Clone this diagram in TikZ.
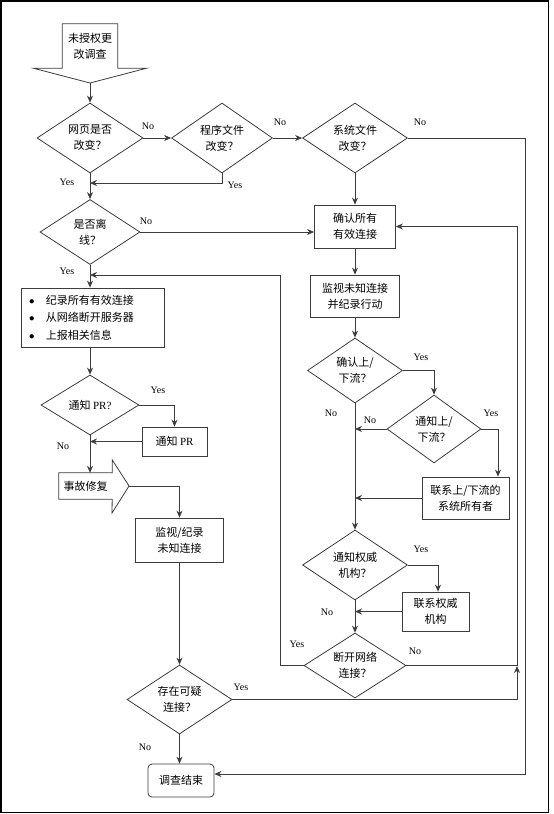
\documentclass[tikz,border=0pt]{standalone}
\usepackage{fontspec}
\setmainfont{Liberation Serif}
\newfontfamily\cjk{Noto Sans CJK SC}
\usepackage{tikz}
\usetikzlibrary{arrows.meta,positioning,shapes.geometric}
\definecolor{fcline}{RGB}{60,60,60}
\newcommand{\fcbullet}{\makebox[17pt][l]{$\bullet$}}

\begin{document}
\begin{tikzpicture}[x=1pt,y=-1pt,
        every node/.style={font=\cjk\fontsize{11}{16}\selectfont},
        decision/.style={diamond, draw=fcline, line width=0.8pt, aspect=1.5, inner sep=0pt, align=center},
        proc/.style={rectangle, draw=fcline, line width=0.8pt, align=center, inner sep=2pt},
        shaft/.style={rectangle, inner sep=0pt, align=center},
        flow/.style={-{Stealth[length=7pt,width=6pt]}, draw=fcline, line width=0.8pt},
        link/.style={draw=fcline, line width=0.8pt},
        yn/.style={font=\rmfamily\fontsize{10}{12}\selectfont, inner sep=0pt}
      ]
      \useasboundingbox (0,0) rectangle (554,814);
      \draw[line width=1.6pt] (1,1) rectangle (548.5,812.5);

      \node[shaft, minimum width=55pt, minimum height=44pt] (start) at (90,46) {未授权更\\改调查};
      \coordinate (starttip) at (90,83);
      \draw[link] (start.south west) |- (start.north east) -- (start.south east) -- ++(29,0) -- (starttip) -- ([xshift=-29pt]start.south west) -- cycle;

      \node[decision, minimum width=106pt, minimum height=70pt] (d1) at (90,138) {网页是否\\改变？};
      \node[decision, minimum width=101pt, minimum height=70pt] (d2) at (222,138) {程序文件\\改变？};
      \node[decision, minimum width=105pt, minimum height=70pt] (d3) at (355,138) {系统文件\\改变？};
      \node[decision, minimum width=100pt, minimum height=65pt] (d4) at (90,232) {是否离\\线？};
      \node[proc, minimum width=81pt, minimum height=43pt] (confirm) at (355,226.5) {确认所有\\有效连接};
      \node[proc, minimum width=89pt, minimum height=42pt] (watch) at (355,296) {监视未知连接\\并纪录行动};

      \node[proc, text width=127pt, inner xsep=8pt, minimum height=59pt, align=left, font=\cjk\fontsize{11}{17.5}\selectfont] (record) at (92.5,317.5)
        {\fcbullet 纪录所有有效连接\\\fcbullet 从网络断开服务器\\\fcbullet 上报相关信息};
      \node[decision, minimum width=98pt, minimum height=60pt] (d5) at (90,405) {通知 {\rmfamily PR?}};
      \node[proc, minimum width=65pt, minimum height=29pt] (notifypr) at (174.5,441.5) {通知 {\rmfamily PR}};
      \node[shaft, minimum width=53pt, minimum height=26pt] (repair) at (85.5,486) {事故修复};
      \coordinate (repairtip) at (129,486);
      \draw[link] (repair.south east) -- (repair.south west) -- (repair.north west) -- (repair.north east) -- ++(0,-13) -- (repairtip) -- ++(-17,27) -- cycle;
      \node[proc, minimum width=88pt, minimum height=44pt] (monitor) at (179.5,540) {监视/纪录\\未知连接};
      \node[decision, minimum width=105pt, minimum height=69pt] (d6) at (179.5,699.5) {存在可疑\\连接？};
      \node[proc, rounded corners=4pt, minimum width=66pt, minimum height=33pt] (finish) at (181,780.5) {调查结束};

      \node[decision, minimum width=95pt, minimum height=65pt] (d7) at (355,370.5) {确认上/\\下流？};
      \node[decision, minimum width=94pt, minimum height=68pt] (d8) at (434,429) {通知上/\\下流？};
      \node[proc, minimum width=87pt, minimum height=42pt] (contact) at (465.5,498) {联系上/下流的\\系统所有者};
      \node[decision, minimum width=105pt, minimum height=70pt] (d9) at (355,565) {通知权威\\机构？};
      \node[proc, minimum width=67pt, minimum height=39pt] (authority) at (435.5,611.5) {联系权威\\机构};
      \node[decision, minimum width=102pt, minimum height=65pt] (d10) at (355,665.5) {断开网络\\连接？};

      \coordinate (yesjoin) at (90,183);
      \coordinate (rightrail) at (525,774);
      \coordinate (looprail) at (517,666);
      \coordinate (backrail) at (280,275);

      \draw[flow] (starttip) -- (d1.north);
      \draw[flow] (d1.east) -- (d2.west);
      \draw[flow] (d2.east) -- (d3.west);
      \draw[flow] (d1.south) -- (d4.north);
      \draw[flow] (d2.south) |- (yesjoin);
      \draw[flow] (d3.south) -- (confirm.north);
      \draw[flow] (d3.east) -| (rightrail) -- (rightrail -| finish.east);
      \draw[flow] (d4.east) -- (d4.east -| confirm.west);
      \draw[flow] (d4.south) -- (d4.south |- record.north);
      \draw[flow] (confirm.south) -- (watch.north);
      \draw[flow] (watch.south) -- (d7.north);
      \draw[flow] (d7.east) -| (d8.north);
      \draw[flow] (d8.west) -- (d8.west -| d7.south);
      \draw[flow] (d8.east) -| ([xshift=32.5pt]contact.north);
      \draw[flow] (contact.west) -- (contact.west -| d7.south);
      \draw[flow] (d7.south) -- (d9.north);
      \draw[flow] (d9.east) -| ([xshift=2.5pt]authority.north);
      \draw[flow] (authority.west) -- (authority.west -| d9.south);
      \draw[flow] (d9.south) -- (d10.north);
      \draw[flow] (d10.west) -| (backrail) -- (backrail -| d4.south);
      \draw[link] (d10.east) -- (d10.east -| looprail);
      \draw[flow] (d6.east) -| (looprail);
      \draw[flow] (looprail) |- (confirm.east);
      \draw[flow] (d5.north |- record.south) -- (d5.north);
      \draw[flow] (d5.east) -| (notifypr.north);
      \draw[flow] (notifypr.west) -- (notifypr.west -| d5.south);
      \draw[flow] (d5.south) -- (d5.south |- repair.north);
      \draw[flow] (repairtip) -| (monitor.north);
      \draw[flow] (monitor.south) -- (d6.north);
      \draw[flow] (d6.south) -- (d6.south |- finish.north);

      \node[yn] (d1no) at (148,126) {No};
      \node[yn] (d1yes) at (67,182) {Yes};
      \node[yn] (d2no) at (280,122) {No};
      \node[yn] (d2yes) at (235,185) {Yes};
      \node[yn] (d3no) at (420,122) {No};
      \node[yn] (d4no) at (146,221) {No};
      \node[yn] (d4yes) at (67,271) {Yes};
      \node[yn] (d5yes) at (158,390) {Yes};
      \node[yn] (d5no) at (63,446) {No};
      \node[yn] (d6yes) at (241,687) {Yes};
      \node[yn] (d6no) at (145,747) {No};
      \node[yn] (d7yes) at (421,357) {Yes};
      \node[yn] (d7no) at (331,413) {No};
      \node[yn] (d8no) at (370,420) {No};
      \node[yn] (d8yes) at (491,413) {Yes};
      \node[yn] (d9yes) at (421,549) {Yes};
      \node[yn] (d9no) at (327,612) {No};
      \node[yn] (d10yes) at (297,644) {Yes};
      \node[yn] (d10no) at (415,651) {No};
    \end{tikzpicture}
\end{document}
